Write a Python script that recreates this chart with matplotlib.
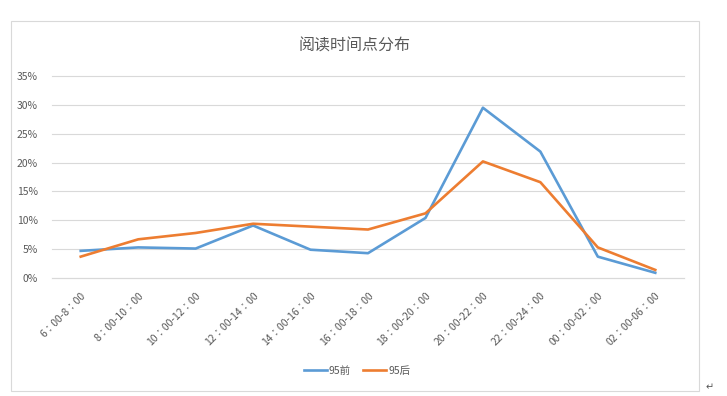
import matplotlib
matplotlib.use("Agg")
import matplotlib.pyplot as plt
from matplotlib.patches import Rectangle
from matplotlib.ticker import FuncFormatter, MultipleLocator

plt.rcParams['font.family'] = ['Noto Sans CJK SC', 'DejaVu Sans']

categories = ["6：00-8：00", "8：00-10：00", "10：00-12：00", "12：00-14：00",
              "14：00-16：00", "16：00-18：00", "18：00-20：00", "20：00-22：00",
              "22：00-24：00", "00：00-02：00", "02：00-06：00"]
before95 = [4.7, 5.3, 5.1, 9.1, 4.9, 4.3, 10.4, 29.5, 21.9, 3.7, 0.9]
after95 = [3.7, 6.7, 7.8, 9.4, 8.9, 8.4, 11.2, 20.2, 16.6, 5.3, 1.4]
series_names = ["95前", "95后"]
title = "阅读时间点分布"

W, H = 727, 396
fig = plt.figure(figsize=(W / 100, H / 100), dpi=100)
fig.patch.set_facecolor("white")

# chart frame
fig.add_artist(Rectangle((11 / W, 1 - 391 / H), (699 - 11) / W, (391 - 21) / H,
                         transform=fig.transFigure, fill=False,
                         edgecolor="#d9d9d9", linewidth=0.8))

ax = fig.add_axes([52 / W, 1 - 278 / H, (684 - 52) / W, (278 - 76) / H])
x = list(range(len(categories)))
ax.plot(x, [v / 100 for v in before95], color="#5b9bd5", lw=1.9, label=series_names[0],
        solid_joinstyle="round")
ax.plot(x, [v / 100 for v in after95], color="#ed7d31", lw=1.9, label=series_names[1],
        solid_joinstyle="round")

ax.set_xlim(-0.5, len(categories) - 0.5)
ax.set_ylim(0, 0.35)
ax.yaxis.set_major_locator(MultipleLocator(0.05))
ax.yaxis.set_major_formatter(FuncFormatter(lambda v, p: f"{v * 100:.0f}%"))
ax.grid(axis="y", color="#d9d9d9", lw=0.8)
for gl in ax.get_ygridlines():
    gl.set_clip_on(False)
ax.set_axisbelow(True)
for s in ["top", "right", "left", "bottom"]:
    ax.spines[s].set_visible(False)
ax.axhline(0, color="#d9d9d9", lw=0.8, zorder=0.5, clip_on=False)
ax.tick_params(axis="y", length=0, pad=10, labelsize=7.5, labelcolor="#595959")
ax.set_xticks(x)
ax.set_xticklabels(categories, rotation=45, ha="right", rotation_mode="anchor",
                   fontsize=7.5, color="#595959",
                   family=["Noto Sans CJK TC", "DejaVu Sans"])
ax.tick_params(axis="x", length=0, pad=9)

fig.text(355 / W, 1 - 46 / H, title, ha="center", va="center", fontsize=11.5,
         color="#595959")

leg = fig.legend(loc="center", bbox_to_anchor=(357 / W, 1 - 371 / H), ncol=2,
                 frameon=False, fontsize=7.5, handlelength=2.2, handletextpad=0.2,
                 columnspacing=1.2)
for t in leg.get_texts():
    t.set_color("#595959")

fig.text(706 / W, 1 - 387 / H, "↵", ha="left", va="center", fontsize=7,
         color="#555555", family=["DejaVu Sans"])

fig.savefig("out.png", dpi=100, facecolor="white")
